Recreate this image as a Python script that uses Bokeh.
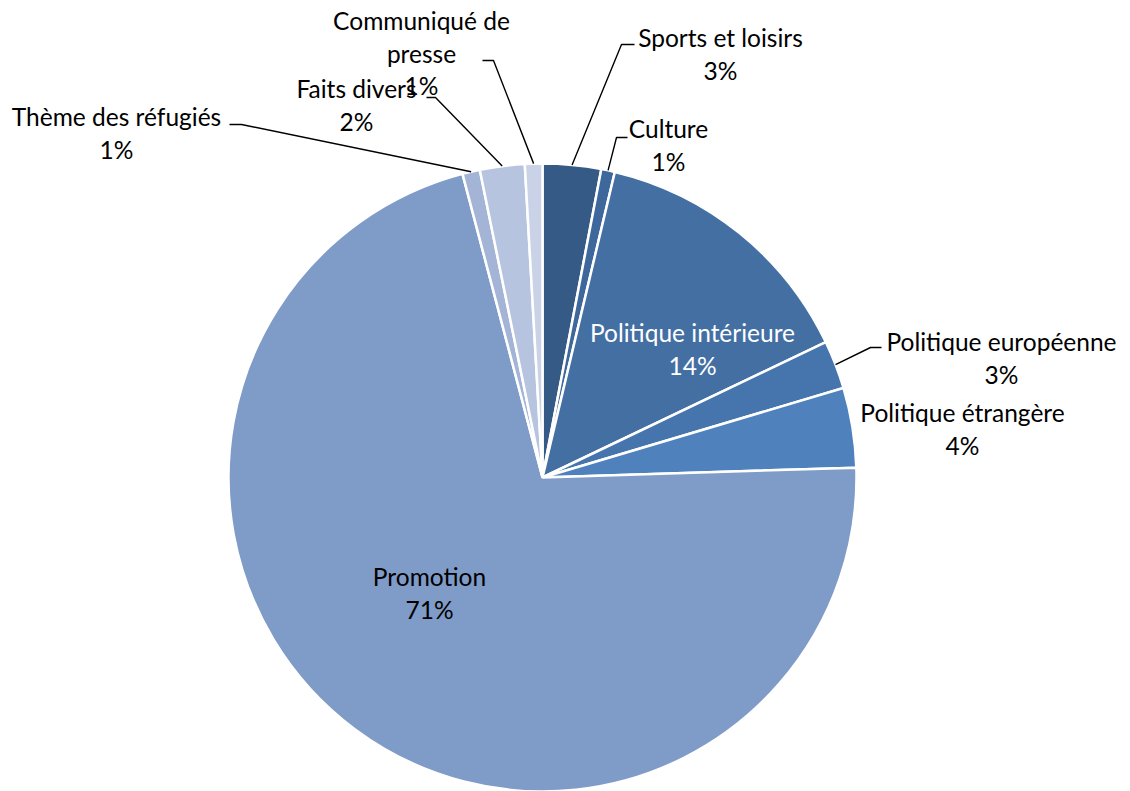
import numpy as np
from bokeh.plotting import figure
from bokeh.models import Range1d, ColumnDataSource
from bokeh.embed import file_html
from bokeh.resources import INLINE
from bokeh.core.properties import value

# ---- data ----
categories = ["Sports et loisirs", "Culture", "Politique intérieure",
              "Politique européenne", "Politique étrangère", "Promotion",
              "Thème des réfugiés", "Faits divers", "Communiqué de presse"]
shares = [3.0, 0.7, 14.2, 2.5, 4.1, 71.4, 0.9, 2.3, 0.9]
pct_labels = ["3%", "1%", "14%", "3%", "4%", "71%", "1%", "2%", "1%"]
colors = ["#355a86", "#3e679c", "#436fa3", "#4674ad", "#4f81bd",
          "#7f9bc7", "#a3b4d6", "#b6c4df", "#c9d2e7"]

# ---- layout (screen px in the 1130x791 page) ----
W, H = 1130, 791
CX, CY, R = 542, 477, 314
name_lines = [["Sports et loisirs"], ["Culture"], ["Politique intérieure"],
              ["Politique européenne"], ["Politique étrangère"], ["Promotion"],
              ["Thème des réfugiés"], ["Faits divers"], ["Communiqué de", "presse"]]
label_pos = [(720, 37), (668, 128), (692, 332), (1001, 341), (962, 412),
             (429, 576), (116, 116), (356, 88), (421, 20)]
label_color = ["black", "black", "white", "black", "black",
               "black", "black", "black", "black"]
# leader: (elbow_x, elbow_y, end_x) or None
leaders = [(621, 44, 634), (616, 137, 627), None, (870, 347, 881), None,
           None, (241, 124, 229), (435, 97, 426), (493, 60, 482)]
LINE_STEP = 32.5
FONT = value("Lato")
FSIZE = value("24.5px")

def sy(y):
    return H - y

p = figure(width=W, height=H, x_range=Range1d(0, W), y_range=Range1d(0, H),
           output_backend="svg", toolbar_location=None, min_border=0)
p.axis.visible = False
p.grid.visible = False
p.outline_line_color = None
p.background_fill_color = "white"
p.border_fill_color = "white"

frac = np.array(shares) / sum(shares)
cum = np.cumsum(frac)
prev = np.concatenate([[0], cum[:-1]])
start = np.pi / 2 - 2 * np.pi * prev
end = np.pi / 2 - 2 * np.pi * cum
mid = (start + end) / 2

src = ColumnDataSource(dict(start=start, end=end, color=colors, cat=categories))
p.wedge(x=CX, y=sy(CY), radius=R, start_angle="start", end_angle="end",
        direction="clock", fill_color="color", line_color="white", line_width=2.5,
        source=src)

# leaders
for i, ld in enumerate(leaders):
    if ld is None:
        continue
    ex, ey, tx = ld
    px0 = CX + R * np.cos(mid[i])
    py0 = sy(CY) + R * np.sin(mid[i])
    p.line([px0, ex, tx], [py0, sy(ey), sy(ey)], line_color="black", line_width=1.4)

# labels
tx, ty, tt, tc = [], [], [], []
for i in range(len(categories)):
    x0, y0 = label_pos[i]
    lines = name_lines[i] + [pct_labels[i]]
    for k, t in enumerate(lines):
        tx.append(x0)
        ty.append(sy(y0 + k * LINE_STEP))
        tt.append(t)
        tc.append(label_color[i])
p.text(x=tx, y=ty, text=tt, text_color=tc, text_font=FONT, text_font_size=FSIZE,
       text_align="center", text_baseline="middle")

open("out.html", "w").write(file_html(p, INLINE))
